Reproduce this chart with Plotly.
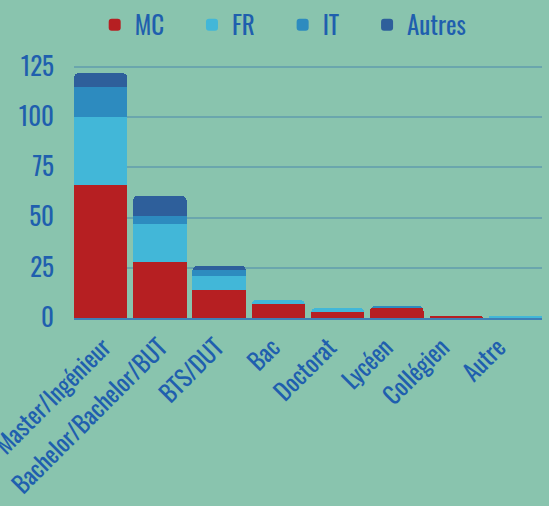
import plotly.graph_objects as go

categories = ["Master/Ingénieur", "Bachelor/Bachelor/BUT", "BTS/DUT", "Bac",
              "Doctorat", "Lycéen", "Collégien", "Autre"]
mc = [66, 28, 14, 7, 3, 5, 1, 0]
fr = [34, 19, 7, 2, 2, 0, 0, 1]
it = [15, 4, 3, 0, 0, 1, 0, 0]
autres = [7, 10, 2, 0, 0, 0, 0, 0]
legend_names = ["MC", "FR", "IT", "Autres"]

colors = ["#b61f22", "#42b7d8", "#2d8bbf", "#2e5f9b"]
values = [mc, fr, it, autres]

FONT = "Oswald, 'Liberation Sans Narrow', 'DejaVu Sans Condensed', sans-serif"
TXT = "#1f5fae"
BG = "#89c4ae"
PAD = "\u00a0" * 4

fig = go.Figure()
for k, (name, vals, col) in enumerate(zip(legend_names, values, colors)):
    label = name + (PAD if k < len(legend_names) - 1 else "")
    fig.add_trace(go.Bar(x=categories, y=vals, name=label,
                         marker=dict(color=col, line=dict(width=0))))

# invisible helper trace so the label axis (x2) is rendered
idx = list(range(len(categories)))
fig.add_trace(go.Scatter(x=idx, y=[0] * len(idx), xaxis="x2", mode="markers",
                         marker=dict(opacity=0), showlegend=False,
                         hoverinfo="skip"))

fig.update_layout(
    barmode="stack",
    bargap=0.1,
    barcornerradius=5,
    width=549, height=506,
    margin=dict(l=74, r=7, t=65, b=188, autoexpand=False),
    paper_bgcolor=BG, plot_bgcolor=BG,
    font=dict(family=FONT, color=TXT, size=22),
    showlegend=True,
    legend=dict(orientation="h", x=0.447, xanchor="center",
                y=1 + 40 / 253, yanchor="middle",
                font=dict(size=25, color=TXT),
                itemwidth=30, traceorder="normal"),
    xaxis=dict(showticklabels=False,
               showline=True, linecolor="#3f7fb5", linewidth=2,
               range=[-0.45, 7.45], showgrid=False, ticks="",
               automargin=False),
    # category labels (rotated), slightly tighter spacing than the bars
    xaxis2=dict(overlaying="x", anchor="y", side="bottom",
                tickmode="array", tickvals=idx,
                ticktext=categories, range=[-0.532, 7.766],
                tickangle=-45, tickfont=dict(size=24, color=TXT),
                showgrid=False, showline=False, zeroline=False, ticks="",
                ticklabelstandoff=10, ticklabeloverflow="allow",
                automargin=False),
    yaxis=dict(range=[0, 126], tickvals=[0, 25, 50, 75, 100, 125],
               tickfont=dict(size=25, color=TXT),
               gridcolor="#6aa6ad", gridwidth=2, zeroline=False,
               showline=False, ticks="", ticklabelstandoff=19,
               automargin=False),
)

fig.write_html("out.html", config={"displayModeBar": False},
               post_script="document.body.style.margin='0';document.body.style.background='%s';" % BG)
